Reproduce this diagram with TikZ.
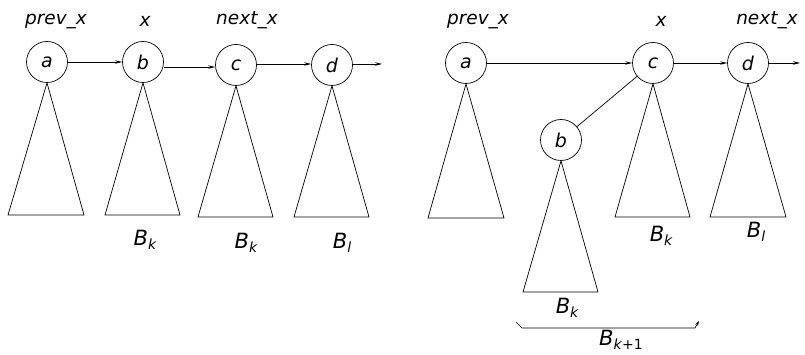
\documentclass[tikz,border=0pt]{standalone}
\usepackage{fontspec}
\setmainfont{DejaVu Sans}
\usetikzlibrary{arrows.meta}
\newcommand{\Bsub}[1]{{\fontsize{21}{21}\selectfont\itshape B\raisebox{-0.2em}{\fontsize{14}{14}\selectfont #1}}}
\begin{document}
\begin{tikzpicture}[x=1pt,y=-1pt,line width=0.7pt,
  vert/.style={draw,circle,minimum size=41pt,inner sep=0pt,font=\fontsize{19}{19}\selectfont\itshape},
  lbl/.style={anchor=base,inner sep=0pt,font=\fontsize{18.5}{18.5}\selectfont\itshape},
  blbl/.style={anchor=base,inner sep=0pt},
  link/.style={-{Stealth[length=7pt,width=3.5pt,inset=2.5pt]}},
  tri/.style={draw,line join=miter}]
\useasboundingbox (0,0) rectangle (805,355);
% ---------- left ----------
\node[lbl] (lpx) at (56,25) {prev\_x};
\node[lbl] (lx) at (145,27) {x};
\node[lbl] (lnx) at (247,25) {next\_x};
\node[vert] (la) at (47,62) {a};
\node[vert] (lb) at (143,62) {b};
\node[vert] (lc) at (236,65) {c};
\node[vert] (ld) at (332,65) {d};
\coordinate (lend) at (382,64);
\draw[link] (la.east) -- (la.east -| lb.west);
\draw[link] (lb.east |- 0,67) -- (lc.west |- 0,67);
\draw[link] (lc.east |- 0,64) -- (ld.west |- 0,64);
\draw[link] (ld.east |- lend) -- (lend);
\draw[tri] (la.south) -- (84,215) -- (8,215) -- cycle;
\draw[tri] (lb.south) -- (180,215) -- (105,215) -- cycle;
\draw[tri] (lc.south) -- (273,217) -- (198,217) -- cycle;
\draw[tri] (ld.south) -- (369,217) -- (294,217) -- cycle;
\node[blbl] (lB1) at (145,245) {\Bsub{k}};
\node[blbl] (lB2) at (246,248) {\Bsub{k}};
\node[blbl] (lB3) at (342,248) {\Bsub{l}};
% ---------- right ----------
\node[lbl] (rpx) at (478,25) {prev\_x};
\node[lbl] (rx) at (661,27) {x};
\node[lbl] (rnx) at (767,25) {next\_x};
\node[vert] (ra) at (466,63) {a};
\node[vert] (rc) at (653,63) {c};
\node[vert] (rd) at (748,63) {d};
\node[vert] (rb) at (561,140) {b};
\coordinate (rend) at (800,63);
\draw[link] (ra.east) -- (rc.west);
\draw[link] (rc.east) -- (rd.west);
\draw[link] (rd.east) -- (rend);
\draw (rc) -- (rb);
\draw[tri] (ra.south) -- (504,218) -- (428,218) -- cycle;
\draw[tri] (rb.south) -- (598,292) -- (523,292) -- cycle;
\draw[tri] (rc.south) -- (690,217) -- (615,217) -- cycle;
\draw[tri] (rd.south) -- (786,217) -- (710,217) -- cycle;
\node[blbl] (rB1) at (661,241) {\Bsub{k}};
\node[blbl] (rB2) at (756,237) {\Bsub{l}};
\node[blbl] (rB3) at (567,313) {\Bsub{k}};
\coordinate (br0) at (516,322);
\coordinate (br1) at (522,328);
\coordinate (br2) at (695,328);
\coordinate (br3) at (699,321);
\draw[line width=0.6pt,-{Stealth[length=5pt,width=3pt]}] (br0) -- (br1) -- (br2) -- (br3);
\node[blbl] (rB4) at (621,345) {\Bsub{k\textup{+1}}};
\end{tikzpicture}
\end{document}
